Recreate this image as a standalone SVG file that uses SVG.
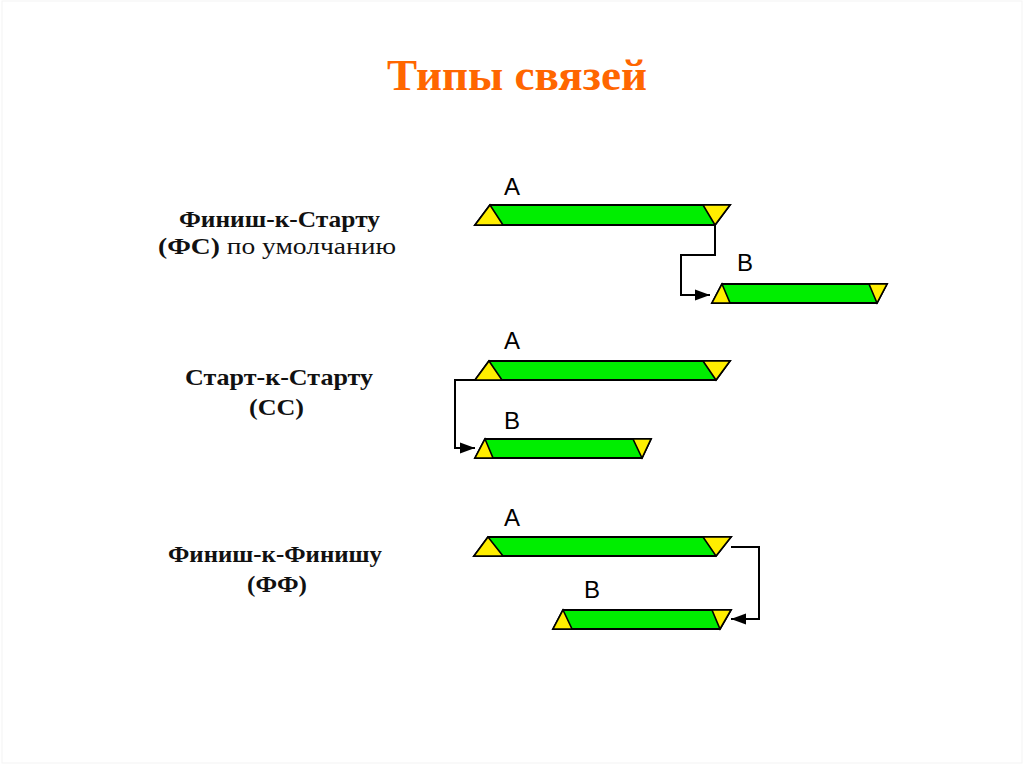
<svg xmlns="http://www.w3.org/2000/svg" width="1024" height="767" viewBox="0 0 1024 767">
<defs>
<style>
.body{fill:#00ee00;stroke:#000;stroke-width:1.8;stroke-linejoin:miter}
.tri{fill:#ffee00;stroke:#000;stroke-width:1.6;stroke-linejoin:miter}
.lbl{font-family:"Liberation Sans",Arial,sans-serif;font-size:24px;fill:#000}
.cap{font-family:"Liberation Serif","Times New Roman",serif;font-size:23px;font-weight:bold;fill:#111;text-anchor:middle}
.reg{font-weight:normal}
.conn{fill:none;stroke:#000;stroke-width:2}
</style>
<marker id="arr" markerUnits="userSpaceOnUse" markerWidth="16" markerHeight="12" refX="15" refY="6" orient="auto">
<path d="M0,0.5 L15,6 L0,11.5 z" fill="#000"/>
</marker>
</defs>
<rect x="0" y="0" width="1024" height="767" fill="#fff"/>
<rect x="2" y="1" width="1020" height="762" fill="none" stroke="#f3f3f3" stroke-width="1"/>
<text x="517" y="90" font-family="'Liberation Serif','Times New Roman',serif" font-size="45" font-weight="bold" fill="#ff6600" text-anchor="middle" textLength="260" lengthAdjust="spacingAndGlyphs">Типы связей</text>

<g id="label-fs">
<text class="cap" x="279.5" y="227" textLength="201" lengthAdjust="spacingAndGlyphs">Финиш-к-Старту</text>
<text class="cap" x="277" y="254" textLength="238" lengthAdjust="spacingAndGlyphs">(ФС)<tspan class="reg"> по умолчанию</tspan></text>
</g>
<g id="label-ss">
<text class="cap" x="279" y="385" textLength="188" lengthAdjust="spacingAndGlyphs">Старт-к-Старту</text>
<text class="cap" x="276.5" y="415" textLength="55" lengthAdjust="spacingAndGlyphs">(СС)</text>
</g>
<g id="label-ff">
<text class="cap" x="275" y="562" textLength="214" lengthAdjust="spacingAndGlyphs">Финиш-к-Финишу</text>
<text class="cap" x="277" y="592" textLength="60" lengthAdjust="spacingAndGlyphs">(ФФ)</text>
</g>

<g id="fs-a">
<polygon class="body" points="490,205 730,205 715,225 475,225"/>
<polygon class="tri" points="490,205 503,225 475,225"/>
<polygon class="tri" points="703,205 730,205 715,225"/>
<text class="lbl" x="504" y="195">A</text>
</g>
<g id="fs-b">
<polygon class="body" points="722,284 887,284 877,303 712,303"/>
<polygon class="tri" points="722,284 730,303 712,303"/>
<polygon class="tri" points="869,284 887,284 877,303"/>
<text class="lbl" x="737" y="271">B</text>
</g>
<g id="ss-a">
<polygon class="body" points="489,361 730,361 716,380 475,380"/>
<polygon class="tri" points="489,361 502,380 475,380"/>
<polygon class="tri" points="703,361 730,361 716,380"/>
<text class="lbl" x="504" y="349">A</text>
</g>
<g id="ss-b">
<polygon class="body" points="485,439 651,439 642,458 475,458"/>
<polygon class="tri" points="485,439 493,458 475,458"/>
<polygon class="tri" points="633,439 651,439 642,458"/>
<text class="lbl" x="504" y="429">B</text>
</g>
<g id="ff-a">
<polygon class="body" points="488,537 731,537 716,556 474,556"/>
<polygon class="tri" points="488,537 503,556 474,556"/>
<polygon class="tri" points="703,537 731,537 716,556"/>
<text class="lbl" x="504" y="526">A</text>
</g>
<g id="ff-b">
<polygon class="body" points="563,610 731,610 720,629 553,629"/>
<polygon class="tri" points="563,610 572,629 553,629"/>
<polygon class="tri" points="712,610 731,610 720,629"/>
<text class="lbl" x="584" y="598">B</text>
</g>

<g id="connectors">
<path class="conn" d="M715,225 V255 H681 V295 H710" marker-end="url(#arr)"/>
<path class="conn" d="M475,380 H455 V448 H475" marker-end="url(#arr)"/>
<path class="conn" d="M731,547 H759 V619 H731" marker-end="url(#arr)"/>
</g>
</svg>
